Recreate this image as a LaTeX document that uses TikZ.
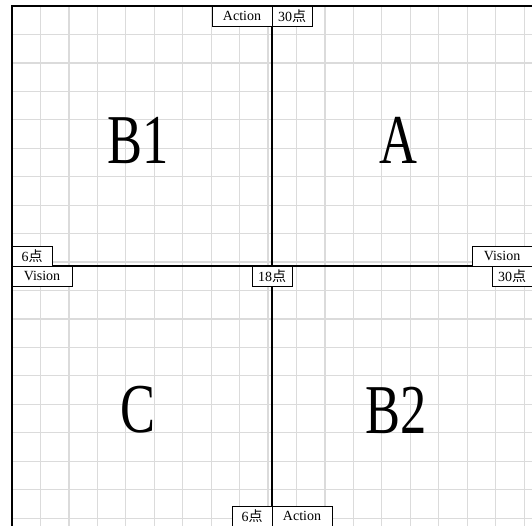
\documentclass[tikz,border=0pt]{standalone}
\usepackage{fontspec}
\setmainfont{Liberation Serif}
\newfontfamily\cjk{Noto Sans CJK SC}
\newcommand{\dian}{{\cjk 点}}

\begin{document}
\begin{tikzpicture}
  [x=20pt,y=20pt,
   every node/.style={draw,fill=white,line width=0.8pt,inner sep=0pt,
     minimum height=20pt,font=\fontsize{14}{14}\selectfont},
   quad/.style={draw=none,fill=none,font=\fontsize{70}{70}\selectfont,xscale=0.75}]
  \useasboundingbox (-0.6,0.3) rectangle (26,-26);

  % grid and axes
  \draw[black!14,line width=1.2pt] (0,-26) grid (26,0);
  \draw[line width=1.8pt] (0,-26) -- (0,0) -- (26,0);
  \draw[line width=1.8pt] (13,0) -- (13,-26);
  \draw[line width=1.8pt] (0,-13) -- (26,-13);

  % quadrants
  \node[quad] (qB1) at (6.3,-6.7)  {B1};
  \node[quad] (qA)  at (19.3,-6.7) {A};
  \node[quad] (qC)  at (6.3,-20.2) {C};
  \node[quad] (qB2) at (19.2,-20.2) {B2};

  % axis labels
  \node[minimum width=60pt] (actTop)    at (11.5,-0.5)  {Action};
  \node[minimum width=40pt] (ptsTop)    at (14,-0.5)    {30\dian};
  \node[minimum width=40pt] (sixLeft)   at (1,-12.5)    {6\dian};
  \node[minimum width=60pt] (visLeft)   at (1.5,-13.5)  {Vision};
  \node[minimum width=60pt] (visRight)  at (24.5,-12.5) {Vision};
  \node[minimum width=40pt] (ptsRight)  at (25,-13.5)   {30\dian};
  \node[minimum width=40pt] (mid)       at (13,-13.5)   {18\dian};
  \node[minimum width=40pt] (sixBottom) at (12,-25.5)   {6\dian};
  \node[minimum width=60pt] (actBottom) at (14.5,-25.5) {Action};
\end{tikzpicture}
\end{document}
